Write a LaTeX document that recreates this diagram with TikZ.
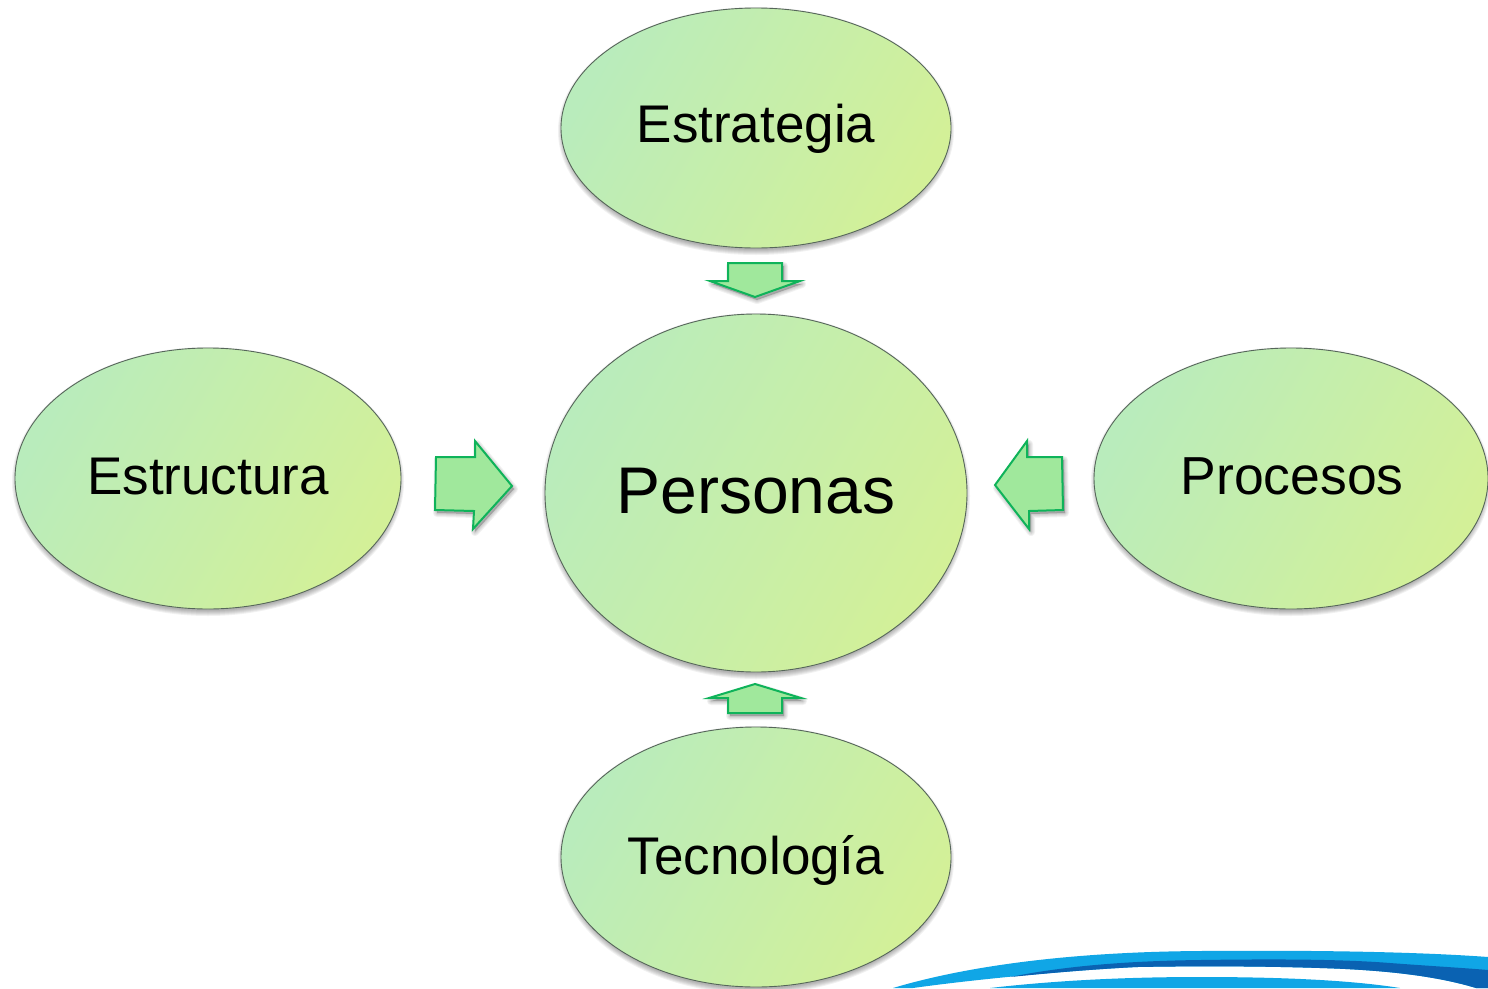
\documentclass[tikz,border=0pt]{standalone}
\usepackage{fontspec}
\usetikzlibrary{shapes.geometric}
\setmainfont{Liberation Sans}
\definecolor{gradA}{HTML}{B9ECBC}
\definecolor{gradB}{HTML}{D3F098}
\definecolor{arrowFill}{HTML}{A0E89C}
\definecolor{arrowLine}{HTML}{0FB35A}
\definecolor{ellLine}{HTML}{56665A}
\definecolor{swLight}{HTML}{10A6E6}
\definecolor{swDark}{HTML}{0A62B2}
\tikzset{
  blob/.style={ellipse,draw=ellLine,line width=0.9pt,inner sep=0pt,
    left color=gradA,right color=gradB,shading angle=60,text=black},
  blockarrow/.style={draw=arrowLine,fill=arrowFill,line width=2pt,line join=miter,miter limit=8},
}
\newcommand{\softshadow}[4]{%
  \foreach \k in {0,1,...,5}{%
    \fill[black,opacity=0.055] (#1,#2+3) ellipse [x radius=#3+3-\k,y radius=#4+4-\k];}%
}
\newcommand{\arrowshadow}[1]{%
  \foreach \k in {0,1,2,3}{%
    \fill[black,opacity=0.06,xshift=2pt,yshift=-3pt] #1;
    \draw[black,opacity=0.05,line width={(4-\k)*2pt},line join=round,xshift=2pt,yshift=-3pt] #1;}%
}
\newcommand{\placed}[2]{\smash{\raisebox{#1}{#2}}}
\begin{document}
\begin{tikzpicture}[x=1pt,y=-1pt]
\useasboundingbox (0,0) rectangle (1488,988);
\clip (0,0) rectangle (1488,988);
\fill[white] (0,0) rectangle (1488,988);

% swoosh
\fill[swLight] (893,988) .. controls (960,968) and (1060,952) .. (1200,951)
  .. controls (1320,950) and (1420,952) .. (1488,957) -- (1488,988) -- (1476,988)
  .. controls (1440,977) and (1390,970) .. (1320,968)
  .. controls (1260,966) and (1190,966) .. (1137,967)
  .. controls (1060,971) and (970,980) .. (913,988) -- cycle;
\fill[swDark] (1010,977) .. controls (1060,967) and (1120,961) .. (1200,960)
  .. controls (1270,959) and (1340,959) .. (1390,963)
  .. controls (1430,966) and (1465,968) .. (1488,970) -- (1488,988) -- (1476,988)
  .. controls (1440,977) and (1390,970) .. (1320,968)
  .. controls (1260,966) and (1190,966) .. (1137,967)
  .. controls (1095,969) and (1050,973) .. (1010,977) -- cycle;
\fill[swLight] (990,988) .. controls (1060,980) and (1130,977) .. (1200,977)
  .. controls (1280,977) and (1350,980) .. (1400,988) -- cycle;

% ellipse shadows
\softshadow{756}{128}{195}{120}
\softshadow{756}{493}{211}{179}
\softshadow{208}{478.5}{193}{130.5}
\softshadow{1291}{478.5}{197}{130.5}
\softshadow{756}{857}{195}{130}

% ellipses
\node[blob,minimum width=390pt,minimum height=240pt,font=\fontsize{53}{60}\selectfont] (estrategia) at (756,128) {\placed{-14.5pt}{Estrategia}};
\node[blob,minimum width=422pt,minimum height=358pt,font=\fontsize{66}{78}\selectfont] (personas) at (756,493) {\placed{-20pt}{Personas}};
\node[blob,minimum width=386pt,minimum height=261pt,font=\fontsize{53}{60}\selectfont] (estructura) at (208,478.5) {\placed{-16pt}{Estructura}};
\node[blob,minimum width=394pt,minimum height=261pt,font=\fontsize{53.5}{60}\selectfont] (procesos) at (1291,478.5) {\hspace*{2pt}\placed{-16pt}{Procesos}};
\node[blob,minimum width=390pt,minimum height=260pt,font=\fontsize{53}{60}\selectfont] (tecnologia) at (756,857) {\placed{-17.5pt}{Tecnología}};

% block arrows
\arrowshadow{(728,263) -- (782,263) -- (782,281) -- (800,281) -- (755,297) -- (710,281) -- (728,281) -- cycle}
\arrowshadow{(728,713) -- (782,713) -- (782,698) -- (801,698) -- (755,684) -- (709,698) -- (728,698) -- cycle}
\arrowshadow{(436,457) -- (475,457) -- (475,441) -- (512,486) -- (473,529) -- (474,511) -- (435,510) -- cycle}
\arrowshadow{(1062,457) -- (1027,457) -- (1027,441) -- (995,485) -- (1029,529) -- (1029,511) -- (1063,510) -- cycle}
\draw[blockarrow] (728,263) -- (782,263) -- (782,281) -- (800,281) -- (755,297) -- (710,281) -- (728,281) -- cycle;
\draw[blockarrow] (728,713) -- (782,713) -- (782,698) -- (801,698) -- (755,684) -- (709,698) -- (728,698) -- cycle;
\draw[blockarrow] (436,457) -- (475,457) -- (475,441) -- (512,486) -- (473,529) -- (474,511) -- (435,510) -- cycle;
\draw[blockarrow] (1062,457) -- (1027,457) -- (1027,441) -- (995,485) -- (1029,529) -- (1029,511) -- (1063,510) -- cycle;
\end{tikzpicture}
\end{document}
